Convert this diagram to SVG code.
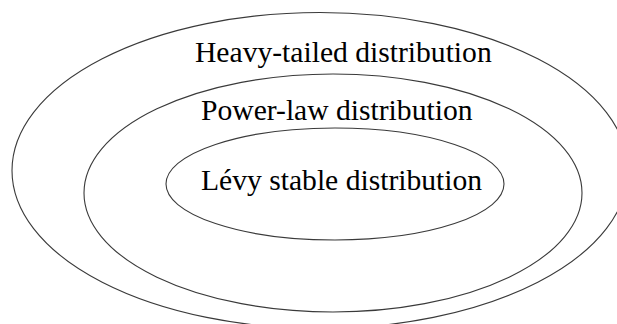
<svg xmlns="http://www.w3.org/2000/svg" width="617" height="324" viewBox="0 0 617 324">
<style>
.e{fill:none;stroke:#3a3a3a;stroke-width:1.1}
.t{font-family:"Liberation Serif","Times New Roman",serif;font-size:29.6px;fill:#000}
</style>
<rect width="617" height="324" fill="#fff"/>
<g id="heavy-tailed">
<ellipse class="e" cx="320" cy="170.5" rx="308" ry="158"/>
<text class="t" x="195" y="62">Heavy-tailed distribution</text>
</g>
<g id="power-law">
<ellipse class="e" cx="333" cy="193" rx="249" ry="119"/>
<text class="t" x="201" y="120">Power-law distribution</text>
</g>
<g id="levy-stable">
<ellipse class="e" cx="335" cy="184" rx="169" ry="56"/>
<text class="t" x="201" y="190">Lévy stable distribution</text>
</g>
<g id="connectors"/>
</svg>
